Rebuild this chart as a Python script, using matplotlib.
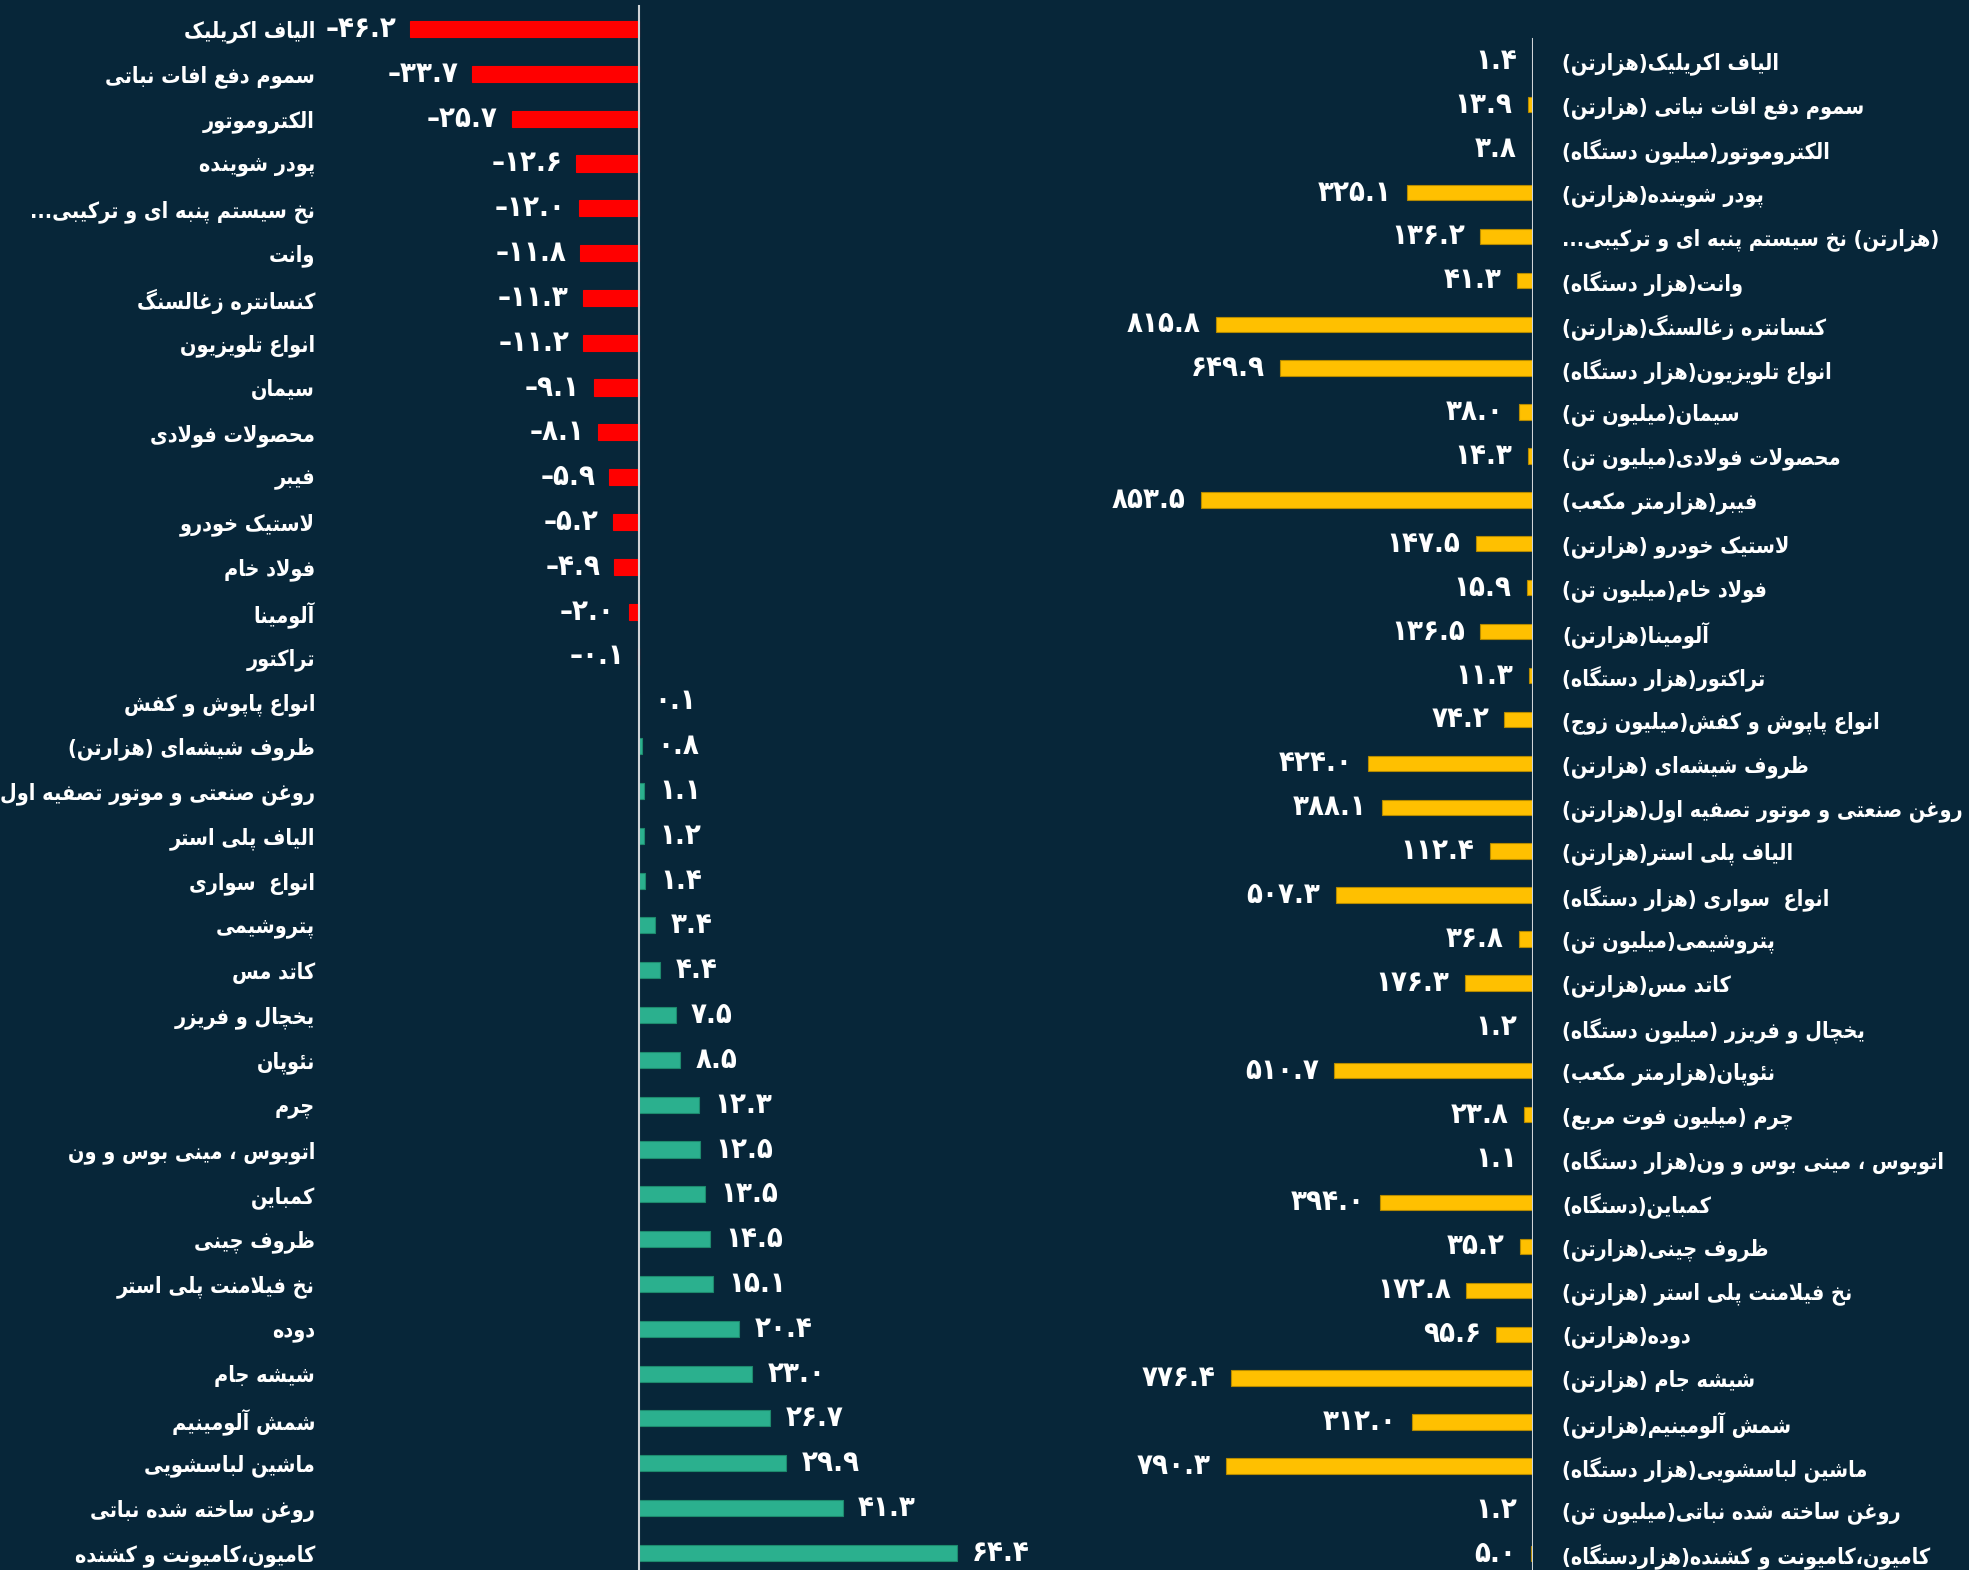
import re

import matplotlib
matplotlib.use("Agg")
import matplotlib.pyplot as plt

# ---------------- data ----------------
change_names = [
    "الیاف اکریلیک", "سموم دفع افات نباتی", "الکتروموتور", "پودر شوینده",
    "نخ سیستم پنبه ای و ترکیبی...", "وانت", "کنسانتره زغالسنگ", "انواع تلویزیون",
    "سیمان", "محصولات فولادی", "فیبر", "لاستیک خودرو", "فولاد خام", "آلومینا",
    "تراکتور", "انواع پاپوش و کفش", "ظروف شیشه\u200cای (هزارتن)",
    "روغن صنعتی و موتور تصفیه اول", "الیاف پلی استر", "انواع  سواری", "پتروشیمی",
    "کاتد مس", "یخچال و فریزر", "نئوپان", "چرم", "اتوبوس ، مینی بوس و ون",
    "کمباین", "ظروف چینی", "نخ فیلامنت پلی استر", "دوده", "شیشه جام",
    "شمش آلومینیم", "ماشین لباسشویی", "روغن ساخته شده نباتی",
    "کامیون،کامیونت و کشنده",
]
change_pct = [
    -46.2, -33.7, -25.7, -12.6, -12.0, -11.8, -11.3, -11.2, -9.1, -8.1,
    -5.9, -5.2, -4.9, -2.0, -0.1, 0.1, 0.8, 1.1, 1.2, 1.4,
    3.4, 4.4, 7.5, 8.5, 12.3, 12.5, 13.5, 14.5, 15.1, 20.4,
    23.0, 26.7, 29.9, 41.3, 64.4,
]

volume_names = [
    "الیاف اکریلیک(هزارتن)", "سموم دفع افات نباتی (هزارتن)",
    "الکتروموتور(میلیون دستگاه)", "پودر شوینده(هزارتن)",
    "(هزارتن) نخ سیستم پنبه ای و ترکیبی...", "وانت(هزار دستگاه)",
    "کنسانتره زغالسنگ(هزارتن)", "انواع تلویزیون(هزار دستگاه)", "سیمان(میلیون تن)",
    "محصولات فولادی(میلیون تن)", "فیبر(هزارمتر مکعب)", "لاستیک خودرو (هزارتن)",
    "فولاد خام(میلیون تن)", "آلومینا(هزارتن)", "تراکتور(هزار دستگاه)",
    "انواع پاپوش و کفش(میلیون زوج)", "ظروف شیشه\u200cای (هزارتن)",
    "روغن صنعتی و موتور تصفیه اول(هزارتن)", "الیاف پلی استر(هزارتن)",
    "انواع  سواری (هزار دستگاه)", "پتروشیمی(میلیون تن)", "کاتد مس(هزارتن)",
    "یخچال و فریزر (میلیون دستگاه)", "نئوپان(هزارمتر مکعب)",
    "چرم (میلیون فوت مربع)", "اتوبوس ، مینی بوس و ون(هزار دستگاه)",
    "کمباین(دستگاه)", "ظروف چینی(هزارتن)", "نخ فیلامنت پلی استر (هزارتن)",
    "دوده(هزارتن)", "شیشه جام (هزارتن)", "شمش آلومینیم(هزارتن)",
    "ماشین لباسشویی(هزار دستگاه)", "روغن ساخته شده نباتی(میلیون تن)",
    "کامیون،کامیونت و کشنده(هزاردستگاه)",
]
volume = [
    1.4, 13.9, 3.8, 325.1, 136.2, 41.3, 815.8, 649.9, 38.0, 14.3,
    853.5, 147.5, 15.9, 136.5, 11.3, 74.2, 424.0, 388.1, 112.4, 507.3,
    36.8, 176.3, 1.2, 510.7, 23.8, 1.1, 394.0, 35.2, 172.8, 95.6,
    776.4, 312.0, 790.3, 1.2, 5.0,
]

BG = "#072639"
RED = "#ff0000"
TEAL = "#2bb08e"
GOLD = "#ffc000"

# ---------------- persian shaping (matplotlib has no bidi) ----------------
FORMS = {
    "ا": (0xFE8D, 0xFE8E, None, None), "آ": (0xFE81, 0xFE82, None, None),
    "ب": (0xFE8F, 0xFE90, 0xFE91, 0xFE92), "پ": (0xFB56, 0xFB57, 0xFB58, 0xFB59),
    "ت": (0xFE95, 0xFE96, 0xFE97, 0xFE98), "ث": (0xFE99, 0xFE9A, 0xFE9B, 0xFE9C),
    "ج": (0xFE9D, 0xFE9E, 0xFE9F, 0xFEA0), "چ": (0xFB7A, 0xFB7B, 0xFB7C, 0xFB7D),
    "ح": (0xFEA1, 0xFEA2, 0xFEA3, 0xFEA4), "خ": (0xFEA5, 0xFEA6, 0xFEA7, 0xFEA8),
    "د": (0xFEA9, 0xFEAA, None, None), "ذ": (0xFEAB, 0xFEAC, None, None),
    "ر": (0xFEAD, 0xFEAE, None, None), "ز": (0xFEAF, 0xFEB0, None, None),
    "ژ": (0xFB8A, 0xFB8B, None, None),
    "س": (0xFEB1, 0xFEB2, 0xFEB3, 0xFEB4), "ش": (0xFEB5, 0xFEB6, 0xFEB7, 0xFEB8),
    "ص": (0xFEB9, 0xFEBA, 0xFEBB, 0xFEBC), "ض": (0xFEBD, 0xFEBE, 0xFEBF, 0xFEC0),
    "ط": (0xFEC1, 0xFEC2, 0xFEC3, 0xFEC4), "ظ": (0xFEC5, 0xFEC6, 0xFEC7, 0xFEC8),
    "ع": (0xFEC9, 0xFECA, 0xFECB, 0xFECC), "غ": (0xFECD, 0xFECE, 0xFECF, 0xFED0),
    "ف": (0xFED1, 0xFED2, 0xFED3, 0xFED4), "ق": (0xFED5, 0xFED6, 0xFED7, 0xFED8),
    "ک": (0xFB8E, 0xFB8F, 0xFB90, 0xFB91), "گ": (0xFB92, 0xFB93, 0xFB94, 0xFB95),
    "ل": (0xFEDD, 0xFEDE, 0xFEDF, 0xFEE0), "م": (0xFEE1, 0xFEE2, 0xFEE3, 0xFEE4),
    "ن": (0xFEE5, 0xFEE6, 0xFEE7, 0xFEE8), "ه": (0xFEE9, 0xFEEA, 0xFEEB, 0xFEEC),
    "و": (0xFEED, 0xFEEE, None, None),
    "ی": (0xFBFC, 0xFBFD, 0xFBFE, 0xFBFF), "ئ": (0xFE89, 0xFE8A, 0xFE8B, 0xFE8C),
}
LAM_ALEF = {"ا": (0xFEFB, 0xFEFC), "آ": (0xFEF5, 0xFEF6)}


def joins_next(c):
    return c in FORMS and FORMS[c][2] is not None


def shape(text):
    out = []
    i = 0
    while i < len(text):
        c = text[i]
        if c not in FORMS:
            if c != "\u200c":
                out.append(c)
            i += 1
            continue
        link_prev = i > 0 and joins_next(text[i - 1])
        nxt = text[i + 1] if i + 1 < len(text) else ""
        if c == "ل" and nxt in LAM_ALEF:
            out.append(chr(LAM_ALEF[nxt][1 if link_prev else 0]))
            i += 2
            continue
        link_next = joins_next(c) and nxt in FORMS
        iso, fin, ini, med = FORMS[c]
        if link_prev and link_next:
            g = med
        elif link_prev:
            g = fin
        elif link_next:
            g = ini
        else:
            g = iso
        out.append(chr(g))
        i += 1
    return "".join(out)


def rtl(text):
    runs = re.findall(r"[0-9A-Za-z\u06F0-\u06F9.]+|.", shape(text))
    mirror = {"(": ")", ")": "("}
    return "".join(mirror.get(r, r) for r in reversed(runs))


FA_DIGITS = str.maketrans("0123456789", "۰۱۲۳۴۵۶۷۸۹")


def fa_num(v):
    s = f"{abs(v):.1f}".translate(FA_DIGITS)
    return ("–" + s) if v < 0 else s


# ---------------- figure ----------------
W, H = 1969, 1570
plt.rcParams["font.family"] = ["DejaVu Sans"]
plt.rcParams["font.weight"] = "bold"

fig = plt.figure(figsize=(W / 100, H / 100), dpi=100, facecolor=BG)

LABEL_FS = 15.5
VALUE_FS = 21
label_kw = dict(fontsize=LABEL_FS, color="white", fontweight="bold",
                fontstretch="condensed")
value_kw = dict(color="white", fontsize=VALUE_FS, fontweight="bold",
                fontstretch="condensed", va="center", textcoords="offset points")


def row_limits(first_px, step_px):
    return ((H - first_px) / step_px, -first_px / step_px)


# left panel: percentage change
zero_l, scale_l = 638.5, 4.94
ax_l = fig.add_axes([322 / W, 0, (1100 - 322) / W, 1])
ax_l.set_facecolor(BG)
rows = list(range(len(change_pct)))
colors = [RED if v < 0 else TEAL for v in change_pct]
edges = [RED if v < 0 else "#1d8a6d" for v in change_pct]
ax_l.barh(rows, change_pct, height=0.36, color=colors, edgecolor=edges, linewidth=0.8)
ax_l.set_xlim((322 - zero_l) / scale_l, (1100 - zero_l) / scale_l)
ax_l.set_ylim(*row_limits(29, 44.82))
ax_l.axvline(0, ymin=0, ymax=1 - 6 / H, color="#d0d4d8", lw=1.5)
ax_l.set_yticks(rows)
ax_l.set_yticklabels([rtl(n) for n in change_names], **label_kw)
ax_l.tick_params(axis="y", length=0, pad=5)
ax_l.set_xticks([])
for s in ax_l.spines.values():
    s.set_visible(False)
for r, v in zip(rows, change_pct):
    ax_l.annotate(fa_num(v), (v, r), xytext=(-10 if v < 0 else 11, 0),
                  ha="right" if v < 0 else "left", **value_kw)

# right panel: production volume
zero_r, scale_r = 1533.3, 0.3894
ax_r = fig.add_axes([820 / W, 0, (zero_r - 820) / W, 1])
ax_r.set_facecolor("none")
ax_r.barh(rows, volume, height=0.35, color=GOLD, edgecolor="#b58a00", linewidth=0.8)
ax_r.set_xlim((zero_r - 820) / scale_r, 0)
ax_r.set_ylim(*row_limits(60.8, 43.91))
ax_r.axvline(0, ymin=0, ymax=1 - 39 / H, color="#d0d4d8", lw=1.5)
ax_r.yaxis.tick_right()
ax_r.set_yticks(rows)
ax_r.set_yticklabels([rtl(n) for n in volume_names], **label_kw)
ax_r.tick_params(axis="y", length=0, pad=21)
ax_r.set_xticks([])
for s in ax_r.spines.values():
    s.set_visible(False)
for r, v in zip(rows, volume):
    ax_r.annotate(fa_num(v), (v, r), xytext=(-11, 0), ha="right", **value_kw)

fig.savefig("out.png", dpi=100, facecolor=BG)
